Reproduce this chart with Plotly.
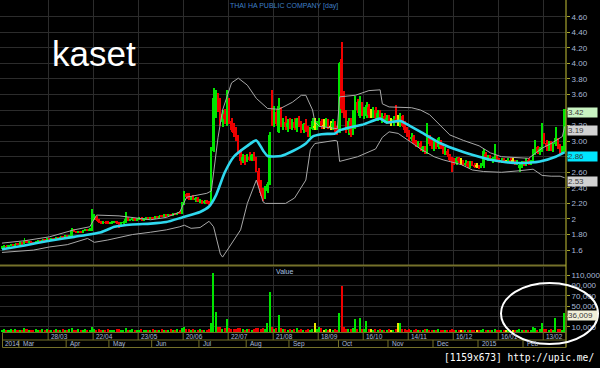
import plotly.graph_objects as go

# ---------------- data ----------------
opens = [1.63,1.64,1.65,1.64,1.66,1.67,1.66,1.68,1.67,1.69,
         1.68,1.72,1.70,1.71,1.70,1.69,1.71,1.72,1.71,1.73,
         1.72,1.74,1.73,1.75,1.74,1.76,1.75,1.77,1.76,1.78,
         1.77,1.79,1.86,1.84,1.83,1.84,1.83,1.85,1.86,1.85,
         1.86,2.01,2.02,1.99,1.96,1.95,1.96,1.95,1.94,1.95,
         1.96,1.97,1.95,1.93,1.95,1.96,2.00,1.98,1.99,2.00,
         1.99,2.00,2.01,1.99,2.00,2.01,2.00,2.02,2.01,2.03,
         2.02,2.04,2.03,2.05,2.04,2.06,2.05,2.07,2.06,2.08,
         2.07,2.20,2.32,2.30,2.27,2.29,2.25,2.26,2.23,2.24,
         2.20,2.23,2.21,2.19,2.88,3.40,3.55,3.45,3.25,3.35,
         3.24,3.50,3.26,3.15,3.10,3.04,2.88,2.74,2.80,2.74,
         2.80,2.76,2.82,2.76,2.62,2.44,2.33,2.28,2.36,2.45,
         3.42,3.24,3.38,3.12,3.40,3.20,3.25,3.18,3.24,3.20,
         3.25,3.17,3.28,3.20,3.14,3.22,3.15,3.10,3.16,3.18,
         3.18,3.22,3.26,3.20,3.20,3.26,3.18,3.18,3.24,3.16,
         3.12,4.06,3.50,3.34,3.14,3.26,3.10,3.18,3.50,3.32,
         3.48,3.36,3.32,3.44,3.34,3.34,3.40,3.30,3.36,3.30,
         3.32,3.26,3.30,3.24,3.24,3.28,3.26,3.20,3.32,3.20,
         3.14,3.10,3.04,3.06,2.98,2.94,2.98,2.90,2.92,2.86,
         3.06,2.96,2.94,2.98,2.92,3.00,2.92,2.86,2.88,2.82,
         2.76,2.74,2.72,2.78,2.74,2.74,2.70,2.72,2.68,2.72,
         2.70,2.68,2.68,2.66,2.68,2.84,2.78,2.80,2.76,2.76,
         2.80,2.76,2.74,2.76,2.74,2.74,2.76,2.74,2.74,2.72,
         2.66,2.70,2.72,2.70,2.76,2.72,2.74,2.84,2.92,2.86,
         2.88,3.08,2.98,2.92,2.98,2.90,2.96,3.02,2.92,2.86,
         2.88]
highs = [1.65,1.66,1.66,1.67,1.68,1.68,1.69,1.69,1.70,1.70,
         1.75,1.73,1.72,1.72,1.71,1.72,1.73,1.73,1.74,1.74,
         1.75,1.75,1.76,1.76,1.77,1.77,1.78,1.78,1.79,1.79,
         1.80,1.88,1.87,1.85,1.85,1.85,1.86,1.87,1.87,1.88,
         2.13,2.06,2.04,2.00,1.98,1.97,1.97,1.97,1.96,1.97,
         1.98,1.98,1.96,1.96,1.97,2.09,2.02,2.00,2.01,2.01,
         2.01,2.02,2.02,2.01,2.02,2.02,2.03,2.03,2.04,2.04,
         2.05,2.05,2.06,2.06,2.07,2.07,2.08,2.08,2.09,2.10,
         2.22,2.36,2.34,2.33,2.30,2.31,2.28,2.28,2.26,2.25,
         2.24,2.24,2.23,2.92,3.68,3.66,3.62,3.56,3.40,3.42,
         3.66,3.55,3.30,3.24,3.18,3.08,2.90,2.84,2.82,2.84,
         2.86,2.84,2.86,2.80,2.66,2.50,2.40,2.42,2.48,3.12,
         3.66,3.45,3.42,3.55,3.44,3.30,3.32,3.28,3.30,3.28,
         3.30,3.30,3.32,3.26,3.24,3.28,3.20,3.18,3.30,3.30,
         3.26,3.30,3.28,3.28,3.30,3.28,3.26,3.28,3.26,3.20,
         4.02,4.28,3.64,3.40,3.30,3.30,3.40,3.58,3.54,3.58,
         3.50,3.44,3.50,3.48,3.42,3.44,3.44,3.40,3.40,3.36,
         3.36,3.34,3.34,3.30,3.32,3.46,3.34,3.36,3.34,3.26,
         3.18,3.14,3.10,3.08,3.02,3.00,3.00,2.94,2.94,3.24,
         3.08,3.02,3.00,3.00,3.06,3.02,2.96,2.92,2.90,2.84,
         2.80,2.78,2.80,2.80,2.78,2.76,2.76,2.74,2.74,2.74,
         2.72,2.72,2.70,2.72,2.90,2.86,2.82,2.82,2.80,2.96,
         2.82,2.78,2.78,2.78,2.76,2.78,2.78,2.78,2.76,2.76,
         2.72,2.74,2.74,2.78,2.78,2.76,2.90,3.02,2.94,2.92,
         3.24,3.10,3.02,3.00,3.00,2.98,3.18,3.04,2.96,2.94,
         3.42]
lows = [1.62,1.63,1.63,1.64,1.65,1.65,1.66,1.66,1.67,1.67,
        1.68,1.69,1.69,1.69,1.68,1.69,1.70,1.70,1.71,1.71,
        1.72,1.72,1.73,1.73,1.74,1.74,1.75,1.75,1.76,1.76,
        1.76,1.78,1.83,1.82,1.82,1.82,1.83,1.84,1.84,1.84,
        1.85,1.99,1.98,1.95,1.94,1.94,1.94,1.93,1.93,1.94,
        1.95,1.94,1.88,1.92,1.94,1.95,1.97,1.97,1.98,1.98,
        1.98,1.99,1.98,1.98,1.99,1.99,2.00,2.00,2.01,2.01,
        2.02,2.02,2.03,2.03,2.04,2.04,2.05,2.05,2.06,2.06,
        2.07,2.18,2.26,2.25,2.24,2.24,2.22,2.22,2.21,2.19,
        2.19,2.19,2.18,2.18,2.86,3.30,3.38,3.20,3.18,3.22,
        3.20,3.22,3.12,3.05,3.00,2.85,2.70,2.72,2.70,2.73,
        2.74,2.75,2.74,2.60,2.40,2.30,2.23,2.26,2.34,2.44,
        3.20,3.18,3.20,3.10,3.18,3.14,3.15,3.12,3.16,3.15,
        3.14,3.12,3.18,3.10,3.10,3.12,3.06,3.06,3.14,3.14,
        3.14,3.18,3.16,3.16,3.18,3.16,3.14,3.14,3.12,3.08,
        3.10,3.36,3.30,3.10,3.08,3.06,3.08,3.16,3.36,3.30,
        3.32,3.28,3.30,3.30,3.30,3.30,3.28,3.26,3.28,3.24,
        3.24,3.22,3.22,3.20,3.20,3.24,3.20,3.18,3.18,3.10,
        3.06,3.00,3.00,2.96,2.92,2.92,2.88,2.86,2.84,2.84,
        2.94,2.90,2.88,2.90,2.90,2.90,2.84,2.82,2.80,2.74,
        2.60,2.70,2.70,2.72,2.70,2.68,2.68,2.66,2.66,2.68,
        2.66,2.66,2.64,2.65,2.66,2.76,2.74,2.74,2.72,2.74,
        2.74,2.72,2.72,2.72,2.72,2.72,2.72,2.72,2.70,2.70,
        2.60,2.66,2.68,2.68,2.70,2.70,2.72,2.82,2.84,2.82,
        2.86,2.96,2.88,2.88,2.88,2.86,2.94,2.90,2.84,2.84,
        2.86]
closes = [1.64,1.65,1.64,1.66,1.67,1.66,1.68,1.67,1.69,1.68,
          1.72,1.70,1.71,1.70,1.69,1.71,1.72,1.71,1.73,1.72,
          1.74,1.73,1.75,1.74,1.76,1.75,1.77,1.76,1.78,1.77,
          1.79,1.86,1.84,1.83,1.84,1.83,1.85,1.86,1.85,1.87,
          2.04,2.03,1.99,1.96,1.95,1.96,1.95,1.94,1.95,1.96,
          1.97,1.95,1.93,1.95,1.96,2.00,1.98,1.99,2.00,1.99,
          2.00,2.01,1.99,2.00,2.01,2.00,2.02,2.01,2.03,2.02,
          2.04,2.03,2.05,2.04,2.06,2.05,2.07,2.06,2.08,2.07,
          2.20,2.32,2.28,2.27,2.29,2.25,2.26,2.23,2.24,2.20,
          2.23,2.21,2.19,2.88,3.55,3.58,3.42,3.25,3.35,3.28,
          3.55,3.26,3.15,3.10,3.04,2.88,2.74,2.80,2.74,2.82,
          2.76,2.82,2.76,2.62,2.44,2.33,2.28,2.38,2.45,3.08,
          3.24,3.38,3.22,3.45,3.20,3.25,3.18,3.24,3.20,3.25,
          3.17,3.28,3.20,3.14,3.22,3.15,3.10,3.16,3.26,3.18,
          3.22,3.26,3.20,3.20,3.26,3.18,3.18,3.24,3.16,3.12,
          4.00,3.42,3.34,3.14,3.26,3.10,3.36,3.54,3.40,3.52,
          3.36,3.40,3.46,3.34,3.34,3.40,3.30,3.36,3.30,3.32,
          3.26,3.30,3.24,3.24,3.28,3.26,3.26,3.32,3.20,3.14,
          3.10,3.04,3.06,2.98,2.94,2.98,2.90,2.92,2.86,3.10,
          2.96,2.94,2.98,2.92,3.04,2.92,2.86,2.88,2.82,2.76,
          2.74,2.72,2.78,2.74,2.74,2.70,2.72,2.68,2.72,2.70,
          2.68,2.68,2.66,2.70,2.88,2.78,2.80,2.76,2.78,2.80,
          2.76,2.74,2.76,2.74,2.74,2.76,2.74,2.74,2.72,2.74,
          2.70,2.72,2.70,2.76,2.72,2.74,2.88,2.92,2.86,2.90,
          3.10,2.98,2.92,2.98,2.90,2.96,3.04,2.92,2.86,2.90,
          3.42]
volumes = [3000,5000,2000,4000,6000,3000,5000,4000,4000,3000,
           7000,5000,3000,4000,2000,5000,4000,3000,6000,4000,
           5000,3000,4000,2000,6000,3000,4000,5000,3000,4000,
           5000,8000,4000,3000,5000,3000,4000,5000,2000,4000,
           9000,6000,4000,5000,3000,4000,3000,5000,4000,3000,
           4000,5000,6000,3000,4000,7000,4000,3000,5000,3000,
           4000,3000,5000,4000,3000,4000,2000,5000,3000,4000,
           3000,5000,4000,3000,4000,5000,3000,4000,5000,4000,
           7000,9000,6000,5000,4000,5000,3000,4000,5000,4000,
           3000,4000,5000,17000,113000,38000,9000,10000,6000,8000,
           25000,7000,6000,5000,6000,8000,7000,5000,4000,6000,
           5000,4000,6000,7000,8000,6000,7000,5000,17000,77000,
           9000,6000,8000,33000,7000,5000,6000,4000,5000,4000,
           5000,8000,4000,5000,4000,3000,5000,4000,6000,17000,
           5000,10000,8000,4000,6000,4000,5000,4000,5000,4000,
           36000,88000,10000,6000,5000,6000,7000,25000,6000,27000,
           6000,5000,21000,5000,6000,4000,5000,4000,5000,4000,
           3000,4000,5000,3000,4000,6000,17000,17000,5000,6000,
           4000,5000,3000,4000,5000,3000,4000,3000,5000,6000,
           4000,3000,4000,3000,5000,4000,3000,4000,3000,4000,
           5000,4000,3000,4000,3000,4000,3000,2000,4000,3000,
           3000,2000,4000,3000,6000,3000,4000,3000,2000,5000,
           3000,4000,2000,3000,2000,3000,4000,2000,3000,4000,
           6000,3000,2000,4000,3000,4000,10000,7000,4000,5000,
           17000,6000,5000,4000,5000,4000,27000,6000,5000,4000,
           36009]

# moving average (cyan) read at bar indices
ma_idx = [0,10,21,32,44,50,58,66,73,80,88,92,95,99,103,109,113,116,118,124,
          129,135,138,142,148,150,155,160,168,171,177,181,186,195,204,212,217,
          224,230,239,246,250]
ma_val = [1.61,1.66,1.72,1.77,1.83,1.90,1.93,1.94,1.96,2.02,2.09,2.16,2.30,2.60,
          2.80,2.94,3.01,2.88,2.81,2.81,2.87,2.97,3.06,3.09,3.10,3.14,3.18,3.21,
          3.29,3.24,3.26,3.20,3.12,2.97,2.87,2.80,2.76,2.73,2.72,2.74,2.80,2.86]
# upper Bollinger band
ub_idx = [0,10,21,32,39,42,52,58,66,73,79,82,91,93,94,96,98,102,105,109,113,118,
          123,129,133,135,138,139,141,148,149,150,157,163,168,169,172,182,186,190,
          195,199,205,212,217,222,234,236,240,244,248,249,250]
ub_val = [1.69,1.72,1.77,1.86,1.90,2.05,2.04,2.02,1.99,2.02,2.09,2.28,2.33,2.36,
          2.60,3.05,3.40,3.75,3.81,3.72,3.55,3.42,3.41,3.50,3.59,3.59,3.40,3.25,
          3.19,3.17,3.16,3.57,3.59,3.65,3.66,3.48,3.44,3.43,3.40,3.34,3.20,3.08,
          3.01,2.94,2.85,2.80,2.78,2.82,2.91,2.97,3.04,3.06,3.19]
# lower Bollinger band
lb_idx = [0,14,21,29,38,41,47,53,58,66,73,79,81,84,88,92,94,97,98,101,106,109,
          113,116,117,126,130,135,137,139,148,149,150,158,166,169,172,176,181,186,
          192,196,204,209,214,222,230,236,240,244,248,250]
lb_val = [1.57,1.60,1.64,1.67,1.75,1.70,1.73,1.77,1.80,1.83,1.86,1.90,1.92,1.88,
          1.89,1.97,1.90,1.55,1.51,1.64,1.86,2.20,2.50,2.22,2.20,2.20,2.27,2.50,
          2.89,2.97,3.01,3.00,2.74,2.80,2.90,3.05,3.12,3.10,3.00,2.90,2.80,2.76,
          2.70,2.63,2.61,2.60,2.62,2.64,2.56,2.55,2.55,2.53]

price_ticks = [4.6,4.4,4.2,4.0,3.8,3.6,3.4,3.2,3.0,2.8,2.6,2.4,2.2,2.0,1.8,1.6]
# 2.80 sits fully under the cyan last-value box in the reference
price_tick_text = ["4.60","4.40","4.20","4.00","3.80","3.60","3.40","3.20","3.00",
                   "","2.60","2.40","2.20","2","1.80","1.6"]
vol_ticks = [10000,30000,50000,70000,90000,110000]
# 30,000 sits fully under the last-volume box in the reference
vol_tick_text = ["10,000","","50,000","70,000","90,000","110,000"]

date_tick_idx = [21,41,61,81,101,121,141,161,181,201,221,241]
date_tick_text = ["28/03","22/04","23/05","20/06","22/07","21/08","18/09",
                  "16/10","14/11","16/12","16/01","13/02"]
month_idx = [0,8,29,48,67,88,109,128,150,172,192,212,232]
month_text = ["2014","Mar","Apr","May","Jun","Jul","Aug","Sep","Oct","Nov",
              "Dec","2015","Feb"]

title_text = "THAI HA PUBLIC COMPANY [day]"
# ---------------------------------------------------------------

W, H = 600, 368
R = 34
PW = W - R
def px(xp):  # pixel -> paper x
    return xp / PW
def py(yp):  # pixel -> paper y
    return 1 - yp / H

GREEN, RED, YEL = "#00e400", "#f00000", "#e8e800"
idx = list(range(len(closes)))
cols = [GREEN if c > o else (RED if c < o else YEL) for o, c in zip(opens, closes)]

OLIVE = "#75712a"
AXY = "#a6a32e"
GRID = "#2c2c2c"
LBL = "#a9b9d6"

fig = go.Figure()
# wicks
fig.add_trace(go.Bar(x=idx, y=[h - l for h, l in zip(highs, lows)], base=lows,
                     width=0.42, marker=dict(color=cols, line=dict(width=0)),
                     hoverinfo="skip", yaxis="y"))
# bodies
fig.add_trace(go.Bar(x=idx, y=[max(abs(c - o), 0.008) for o, c in zip(opens, closes)],
                     base=[min(o, c) for o, c in zip(opens, closes)],
                     width=0.8, marker=dict(color=cols, line=dict(width=0)),
                     hoverinfo="skip", yaxis="y"))
# bands and MA
fig.add_trace(go.Scatter(x=ub_idx, y=ub_val, mode="lines",
                         line=dict(color="#a8a8a8", width=1), yaxis="y"))
fig.add_trace(go.Scatter(x=lb_idx, y=lb_val, mode="lines",
                         line=dict(color="#a8a8a8", width=1), yaxis="y"))
fig.add_trace(go.Scatter(x=ma_idx, y=ma_val, mode="lines",
                         line=dict(color="#2fd8ee", width=2.6, shape="spline", smoothing=0.6),
                         yaxis="y"))
# volume
fig.add_trace(go.Bar(x=idx, y=volumes, width=0.7,
                     marker=dict(color=cols, line=dict(width=0)),
                     hoverinfo="skip", yaxis="y2"))

p_top, p_bot = 4.6 + 16.7 / 77.8, 4.6 - (265 - 16.7) / 77.8

fig.update_layout(
    width=W, height=H, margin=dict(l=0, r=R, t=0, b=0),
    paper_bgcolor="black", plot_bgcolor="black", showlegend=False,
    barmode="overlay", bargap=0,
    xaxis=dict(range=[-0.9, len(closes) - 0.4], anchor="y2",
               tickvals=[t - 0.5 for t in date_tick_idx], showticklabels=False,
               ticks="", showgrid=True, gridcolor=GRID, gridwidth=1,
               zeroline=False, showline=False, fixedrange=True),
    yaxis=dict(domain=[py(265), 1], range=[p_bot, p_top], side="right",
               tickvals=price_ticks, ticktext=price_tick_text,
               tickfont=dict(family="Liberation Sans", size=8, color=LBL),
               ticks="outside", ticklen=3, tickcolor=AXY,
               showgrid=True, gridcolor=GRID, zeroline=False, showline=False),
    yaxis2=dict(domain=[py(332), py(267)], range=[0, 125500], side="right",
                anchor="x", tickvals=vol_ticks, ticktext=vol_tick_text,
                tickfont=dict(family="Liberation Sans", size=8, color=LBL),
                ticks="outside", ticklen=3, tickcolor=AXY,
                showgrid=True, gridcolor=GRID, zeroline=False, showline=False),
)

shapes = []
# separator between price and volume panels
shapes.append(dict(type="line", xref="paper", yref="paper", x0=0, x1=1,
                   y0=py(265.5), y1=py(265.5), line=dict(color=OLIVE, width=2)))
# right axis line
shapes.append(dict(type="line", xref="paper", yref="paper", x0=px(566), x1=px(566),
                   y0=py(0), y1=py(347.5), line=dict(color=AXY, width=1.2)))
# date area horizontal lines
for yy in (332.5, 340, 347.5):
    shapes.append(dict(type="line", xref="paper", yref="paper", x0=px(2.5), x1=px(566),
                       y0=py(yy), y1=py(yy), line=dict(color=OLIVE, width=1)))
shapes.append(dict(type="line", xref="paper", yref="paper", x0=px(2.5), x1=px(2.5),
                   y0=py(332.5), y1=py(347.5), line=dict(color=OLIVE, width=1)))
for t in date_tick_idx:
    shapes.append(dict(type="line", xref="x", yref="paper", x0=t - 0.5, x1=t - 0.5,
                       y0=py(332.5), y1=py(340), line=dict(color=OLIVE, width=1)))
for m in month_idx[1:]:
    shapes.append(dict(type="line", xref="x", yref="paper", x0=m - 0.5, x1=m - 0.5,
                       y0=py(340), y1=py(347.5), line=dict(color=OLIVE, width=1)))
# highlight ellipse
shapes.append(dict(type="circle", xref="paper", yref="paper", x0=px(501), x1=px(598),
                   y0=py(344), y1=py(283), line=dict(color="white", width=2)))
fig.update_layout(shapes=shapes)

ann = []
ann.append(dict(text=title_text, xref="paper", yref="paper", x=px(284), y=py(6.5),
                showarrow=False, xanchor="center", yanchor="middle",
                font=dict(family="Liberation Sans", size=7, color="#3f7fc4")))
ann.append(dict(text="kaset", xref="paper", yref="paper", x=px(50), y=py(53),
                showarrow=False, xanchor="left", yanchor="middle",
                font=dict(family="Liberation Sans", size=35, color="white")))
ann.append(dict(text="Value", xref="paper", yref="paper", x=px(284), y=py(271),
                showarrow=False, xanchor="center", yanchor="middle",
                font=dict(family="Liberation Sans", size=7, color="#a9c0e0")))
for t, s in zip(date_tick_idx, date_tick_text):
    ann.append(dict(text=s, xref="x", yref="paper", x=t - 0.5, y=py(336.3),
                    xshift=1, showarrow=False, xanchor="left", yanchor="middle",
                    font=dict(family="Liberation Sans", size=6.5, color=LBL)))
for m, s in zip(month_idx, month_text):
    ann.append(dict(text=s, xref="x", yref="paper", x=m - 0.5, y=py(343.8),
                    xshift=2, showarrow=False, xanchor="left", yanchor="middle",
                    font=dict(family="Liberation Sans", size=6.5, color=LBL)))
# last-value boxes on the right axis
last_boxes = [
    (closes[-1], "y", "#c9f3c2"),
    (ub_val[-1], "y", "#d2d2d2"),
    (ma_val[-1], "y", "#00e6ff"),
    (lb_val[-1], "y", "#d2d2d2"),
]
for v, yr, bg in last_boxes:
    ann.append(dict(text=f"{v:.2f}", xref="paper", yref=yr, x=px(567), y=v, yshift=-4,
                    showarrow=False, xanchor="left", yanchor="middle", align="left",
                    width=29, height=9, bgcolor=bg, borderpad=0,
                    font=dict(family="Liberation Sans", size=8, color="#3a3a3a")))
ann.append(dict(text=f"{volumes[-1]:,}", xref="paper", yref="y2", x=px(567), y=volumes[-1],
                yshift=-2, showarrow=False, xanchor="left", yanchor="middle", align="left",
                width=29, height=9, bgcolor="#f1efd9", borderpad=0,
                font=dict(family="Liberation Sans", size=8, color="#3a3a3a")))
ann.append(dict(text="[1159x673] http://upic.me/", xref="paper", yref="paper",
                x=px(596), y=py(357.5), showarrow=False, xanchor="right", yanchor="middle",
                font=dict(family="DejaVu Sans Mono", size=9.6, color="white")))
fig.update_layout(annotations=ann)

fig.write_html("out.html")
